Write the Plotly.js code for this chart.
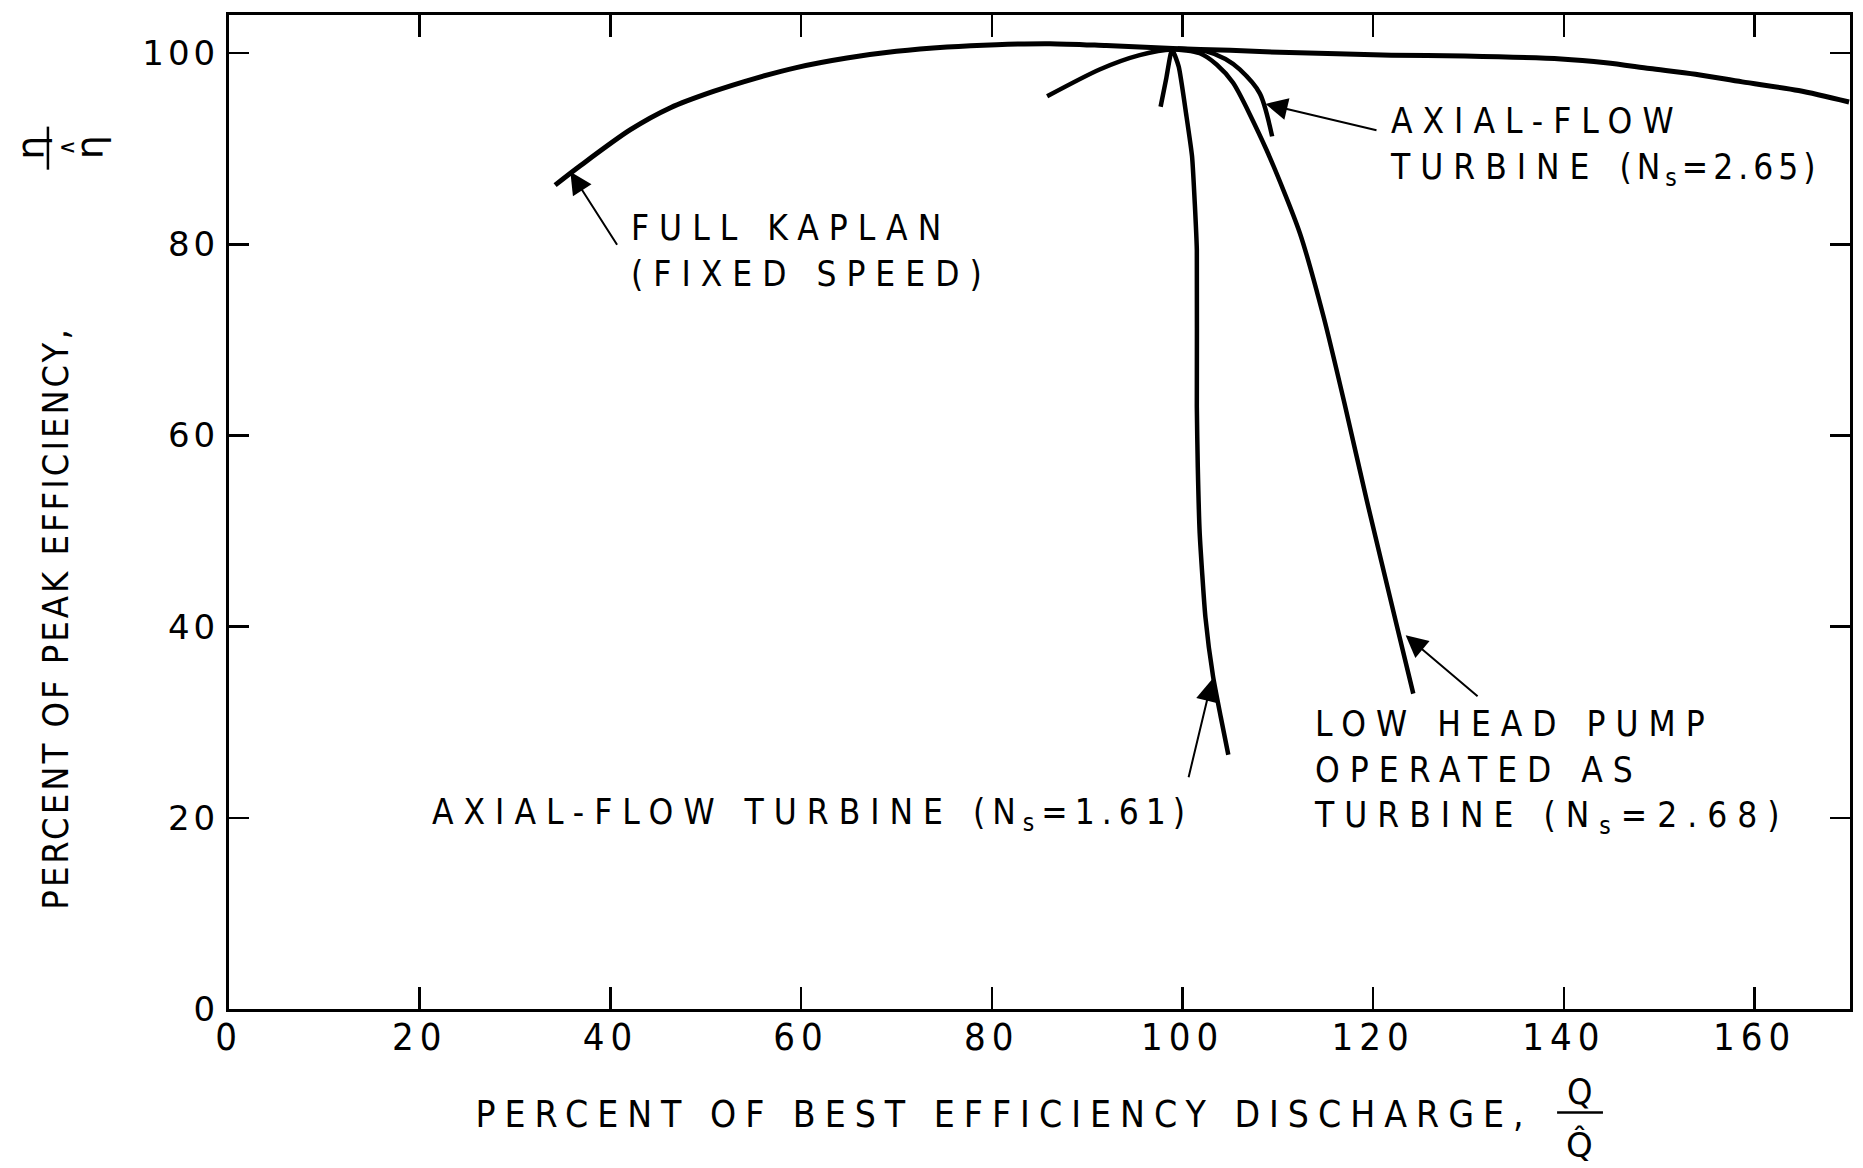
<!DOCTYPE html>
<html><head><meta charset="utf-8">
<script src="https://cdn.plot.ly/plotly-3.0.1.min.js"></script>
<style>
html,body{margin:0;padding:0;background:#fff;}
#chart{width:1863px;height:1168px;}
.xtick text{letter-spacing:6px;}
.ytick text{letter-spacing:4px;}
.annotation-text{letter-spacing:10px;}
.annotation[data-index="8"] .annotation-text{letter-spacing:9px;}
.annotation[data-index="9"] .annotation-text{letter-spacing:3px;}
.annotation[data-index="10"] .annotation-text,
.annotation[data-index="11"] .annotation-text,
.annotation[data-index="12"] .annotation-text,
.annotation[data-index="13"] .annotation-text,
.annotation[data-index="14"] .annotation-text{letter-spacing:0px;}
</style></head><body><div id="chart"></div>
<script>
// Percent of best efficiency discharge (Q/Q^) and percent of peak efficiency (eta/eta^)
const kaplanQ   = [34.2, 36.8, 42.1, 46.3, 50.8, 55.3, 59.5, 64.8, 70.0, 75.3, 80.5, 86.1, 92.0, 99.0, 105.0, 110.2, 121.9, 129.6, 139.7, 144.4, 149.0, 153.8, 158.7, 164.6, 169.9];
const kaplanEff = [86.2, 88.2, 92.0, 94.3, 96.0, 97.4, 98.5, 99.5, 100.2, 100.65, 100.9, 101.0, 100.8, 100.5, 100.3, 100.1, 99.8, 99.7, 99.4, 99.0, 98.4, 97.8, 97.0, 96.1, 94.9];

const axial161Q   = [97.7, 98.3, 98.9, 99.6, 100.4, 101.0, 101.3, 101.5, 101.5, 101.6, 101.8, 102.4, 103.2, 104.0, 104.8];
const axial161Eff = [94.4, 97.4, 100.4, 98.6, 93.5, 89.2, 84.0, 79.4, 63.0, 56.7, 49.8, 41.0, 34.8, 30.6, 26.6];

const pumpQ   = [85.8, 91.3, 95.5, 98.9, 101.8, 103.6, 105.3, 108.8, 112.3, 114.8, 117.0, 119.3, 122.5, 124.2];
const pumpEff = [95.5, 98.3, 99.8, 100.4, 100.0, 98.8, 96.9, 89.9, 81.2, 72.4, 63.3, 53.3, 40.0, 33.0];

const axial265Q   = [99.5, 102.5, 104.5, 106.0, 108.1, 109.4];
const axial265Eff = [100.5, 100.2, 99.4, 98.3, 95.8, 91.3];

const xTicks = [0, 20, 40, 60, 80, 100, 120, 140, 160];
const yTicks = [0, 20, 40, 60, 80, 100];

const labelTexts = [
  "FULL KAPLAN<br>(FIXED SPEED)",
  "AXIAL-FLOW<br>TURBINE <span style=\"letter-spacing:5px\">(N<sub>s</sub>=2.65)</span>",
  "AXIAL-FLOW TURBINE <span style=\"letter-spacing:7px\">(N<sub>s</sub>=1.61)</span>",
  "LOW HEAD PUMP<br>OPERATED AS<br>TURBINE (N<sub>s</sub>=2.68)"
];
const xTitle = "PERCENT OF BEST EFFICIENCY DISCHARGE,";
const yTitle = "PERCENT OF PEAK EFFICIENCY,";

const NARROW = "'Liberation Sans Narrow', 'DejaVu Sans Condensed', 'Liberation Sans', sans-serif";
const WIDE = "'DejaVu Sans', 'Liberation Sans', sans-serif";

function curve(x, y, w, smooth) {
  return {x: x, y: y, type: 'scatter', mode: 'lines',
    line: {color: '#000', width: w, shape: 'spline', smoothing: smooth},
    hoverinfo: 'skip'};
}

const data = [
  curve(kaplanQ, kaplanEff, 5, 0.8),
  curve(pumpQ, pumpEff, 4.5, 0.7),
  curve(axial265Q, axial265Eff, 4.5, 0.8),
  curve(axial161Q, axial161Eff, 4.5, 0.5)
];

const txtFont = {family: NARROW, size: 35, color: '#000'};
function label(text, x, y) {
  return {text: text, x: x, y: y, xref: 'x', yref: 'y', xanchor: 'left', yanchor: 'middle',
    align: 'left', showarrow: false, font: txtFont};
}
function arrow(x, y, ax, ay) {
  return {text: '', x: x, y: y, ax: ax, ay: ay, xref: 'x', yref: 'y', axref: 'x', ayref: 'y',
    showarrow: true, arrowhead: 2, arrowsize: 2.2, arrowwidth: 2, arrowcolor: '#000'};
}
function ptext(text, x, y, size, family, angle) {
  return {text: text, x: x, y: y, xref: 'paper', yref: 'paper', xanchor: 'center', yanchor: 'middle',
    showarrow: false, textangle: angle || 0, font: {family: family, size: size, color: '#000'}};
}

const annotations = [
  label(labelTexts[0], 42.0, 79.3),
  label(labelTexts[1], 121.5, 90.2),
  label(labelTexts[2], 21.1, 20.3),
  label(labelTexts[3], 113.6, 24.8),
  arrow(35.8, 87.6, 40.8, 79.8),
  arrow(108.7, 94.7, 120.5, 91.9),
  arrow(103.1, 34.5, 100.6, 24.1),
  arrow(123.4, 39.1, 131.1, 32.6),
  // axis titles
  ptext(xTitle, 0.478, -0.1061, 37, NARROW, 0),
  ptext(yTitle, -0.1073, 0.3933, 36, NARROW, -90),
  // fraction Q / Q-hat
  ptext('Q', 0.8334, -0.0831, 36, NARROW),
  ptext('Q\u0302', 0.8334, -0.1370, 34, WIDE),
  // fraction eta / eta-hat
  ptext('η', -0.1221, 0.8666, 38, WIDE, -90),
  ptext('∧', -0.1000, 0.8666, 22, WIDE, -90),
  ptext('η', -0.0860, 0.8666, 38, WIDE, -90)
];

const shapes = [
  {type: 'line', xref: 'paper', yref: 'paper', x0: 0.8193, x1: 0.8476, y0: -0.1042, y1: -0.1042,
   line: {color: '#000', width: 2.5}},
  {type: 'line', xref: 'paper', yref: 'paper', x0: -0.1117, x1: -0.1117, y0: 0.8444, y1: 0.8877,
   line: {color: '#000', width: 2.5}}
];

const layout = {
  width: 1863, height: 1168,
  margin: {l: 229, r: 13, t: 15, b: 159, pad: 0},
  paper_bgcolor: '#fff', plot_bgcolor: '#fff',
  showlegend: false,
  xaxis: {
    range: [0, 170], tickvals: xTicks, ticktext: xTicks.map(String),
    ticks: 'inside', ticklen: 22, tickwidth: 2.5, tickcolor: '#000',
    showline: true, linewidth: 3, linecolor: '#000', mirror: 'ticks',
    showgrid: false, zeroline: false, ticklabelstandoff: -8,
    tickfont: {family: NARROW, size: 38, color: '#000'}
  },
  yaxis: {
    range: [0, 104], tickvals: yTicks, ticktext: yTicks.map(String),
    ticks: 'inside', ticklen: 20, tickwidth: 2.5, tickcolor: '#000',
    showline: true, linewidth: 3, linecolor: '#000', mirror: 'ticks',
    showgrid: false, zeroline: false,
    tickfont: {family: WIDE, size: 34, color: '#000'}
  },
  annotations: annotations,
  shapes: shapes
};

Plotly.newPlot('chart', data, layout, {displayModeBar: false, staticPlot: true});
</script></body></html>
